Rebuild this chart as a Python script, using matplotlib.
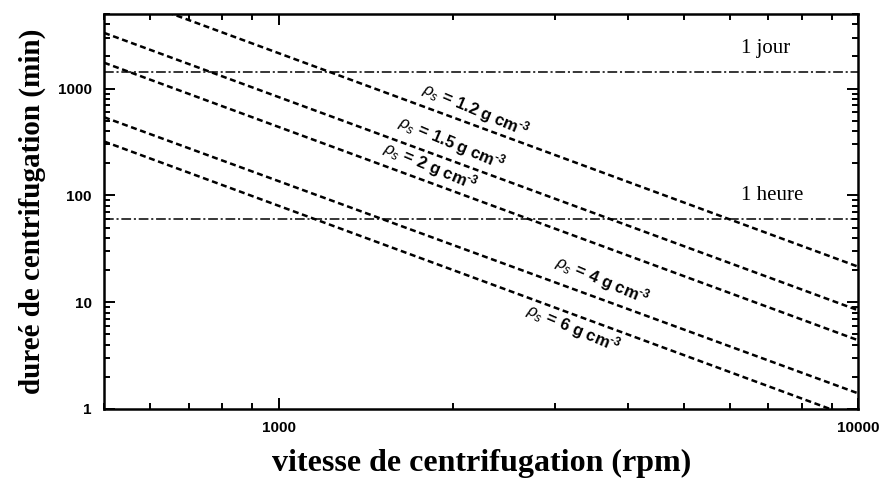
import matplotlib
matplotlib.use("Agg")
import matplotlib.pyplot as plt
import numpy as np
from matplotlib.ticker import LogLocator, NullFormatter, FixedFormatter, FixedLocator

# vitesse (rpm) aux deux extremites du graphe
vitesse = [500, 10000]
densites = ["1.2", "1.5", "2", "4", "6"]
duree_debut = [8600, 3330, 1750, 540, 320]
duree_fin = [21.5, 8.4, 4.4, 1.4, 0.8]

# positions des etiquettes (rpm, min)
etiq_x = [2190, 1990, 1830, 3620, 3230]
etiq_y = [630, 315, 190, 16, 5.7]

# durees de reference
ref_valeurs = [1440, 60]
ref_textes = ["1 jour", "1 heure"]
ref_x = [7640, 8040]

plt.rcParams["lines.scale_dashes"] = False
plt.rcParams["mathtext.fontset"] = "custom"
plt.rcParams["mathtext.rm"] = "Liberation Sans:bold"
plt.rcParams["mathtext.it"] = "Liberation Sans:italic"
plt.rcParams["mathtext.bf"] = "Liberation Sans:bold"

fig = plt.figure(figsize=(8.82, 4.78), dpi=100)
ax = fig.add_axes([0.118, 0.1444, 0.855, 0.8263])

for i in range(len(densites)):
    ax.plot(vitesse, [duree_debut[i], duree_fin[i]], color="black",
            lw=1.8, ls=(0, (4.3, 2.6)))

for v in ref_valeurs:
    ax.axhline(v, color="black", lw=1.1, ls=(0, (7, 2, 1.5, 2)))

ax.set_xscale("log")
ax.set_yscale("log")
ax.set_xlim(500, 10000)
ax.set_ylim(1, 5000)

# etiquettes des droites
for i in range(len(densites)):
    ax.text(etiq_x[i], etiq_y[i],
            r"$\rho_s$ = " + densites[i] + r" g cm$^{\text{-}3}$",
            rotation=-23, ha="center", va="center",
            family="Liberation Sans", fontweight="bold", fontsize=12,
            rotation_mode="anchor")

for i in range(len(ref_valeurs)):
    ax.text(ref_x[i], ref_valeurs[i] * 1.5, ref_textes[i],
            family="Liberation Serif", fontsize=15, ha="right", va="baseline")

# graduations
ax.xaxis.set_major_locator(FixedLocator([1000, 10000]))
ax.xaxis.set_major_formatter(FixedFormatter(["1000", "10000"]))
ax.xaxis.set_minor_locator(LogLocator(base=10, subs=np.arange(2, 10)))
ax.xaxis.set_minor_formatter(NullFormatter())
ax.yaxis.set_major_locator(FixedLocator([1, 10, 100, 1000]))
ax.yaxis.set_major_formatter(FixedFormatter(["1", "10", "100", "1000"]))
ax.yaxis.set_minor_locator(LogLocator(base=10, subs=np.arange(2, 10)))
ax.yaxis.set_minor_formatter(NullFormatter())

ax.tick_params(which="both", direction="in", top=True, right=True, width=1.4)
ax.tick_params(which="major", length=8, labelsize=11, pad=9)
ax.tick_params(which="minor", length=4.5)
for lab in ax.get_xticklabels() + ax.get_yticklabels():
    lab.set_family("Liberation Sans")
    lab.set_fontweight("bold")
for sp in ax.spines.values():
    sp.set_linewidth(1.8)

ax.set_xlabel("vitesse de centrifugation (rpm)", family="Liberation Serif",
              fontweight="bold", fontsize=23, labelpad=10)
ax.set_ylabel("dureé de centrifugation (min)", family="Liberation Serif",
              fontweight="bold", fontsize=21, labelpad=8)

fig.savefig("out.png", dpi=100)
